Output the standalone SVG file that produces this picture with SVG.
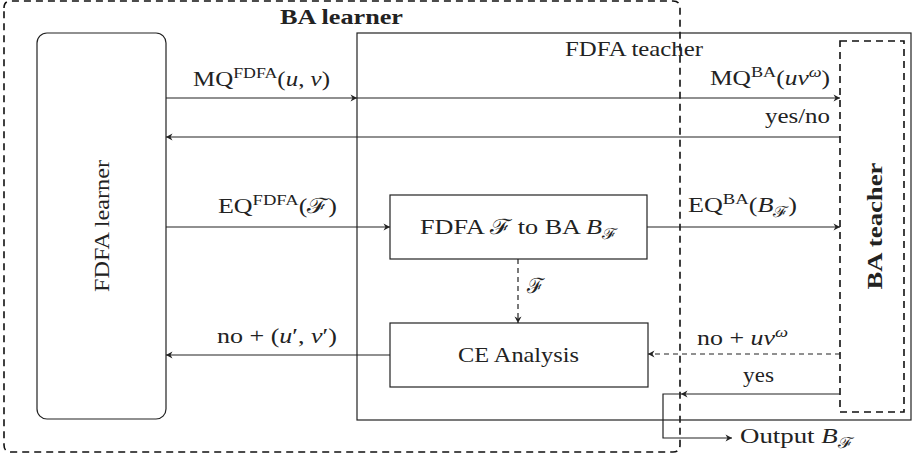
<svg xmlns="http://www.w3.org/2000/svg" width="913" height="459" viewBox="0 0 913 459">
<style>
text{font-family:"Liberation Serif","DejaVu Serif",serif;font-size:21px;fill:#222}
.b{font-weight:bold}
.i{font-style:italic}
.sup{font-size:15px}
.sub{font-size:15px}
.box{fill:none;stroke:#222;stroke-width:1.2}
.dbox{fill:none;stroke:#111;stroke-width:1.6;stroke-dasharray:7 5}
.ln{fill:none;stroke:#222;stroke-width:1.2}
.dl{fill:none;stroke:#222;stroke-width:1.2;stroke-dasharray:5 4}
</style>
<defs>
<marker id="arr" viewBox="-7 -4 8 8" refX="0" refY="0" markerWidth="8" markerHeight="8" orient="auto" markerUnits="userSpaceOnUse">
<path d="M0,0 L-6.5,-3.5 L-4.5,0 L-6.5,3.5 Z" fill="#222"/>
</marker>
</defs>
<g id="ba-learner">
<path class="dbox" d="M4,8 Q4,1 11,1 L673,1 Q680,1 680,8 L680,445 Q680,452 673,452 L11,452 Q4,452 4,445 Z"/>
<text class="b" x="280" y="24" textLength="123" lengthAdjust="spacingAndGlyphs">BA learner</text>
</g>
<g id="fdfa-learner">
<rect class="box" x="37" y="33" width="129" height="386" rx="10"/>
<text x="109" y="226" text-anchor="middle" transform="rotate(-90 109 226)" textLength="132" lengthAdjust="spacingAndGlyphs">FDFA learner</text>
</g>
<g id="fdfa-teacher">
<rect class="box" x="357" y="33" width="554" height="387"/>
<text x="565" y="56" textLength="138" lengthAdjust="spacingAndGlyphs">FDFA teacher</text>
</g>
<g id="ba-teacher">
<rect class="dbox" x="840" y="41" width="64" height="371"/>
<text class="b" x="882" y="226" text-anchor="middle" transform="rotate(-90 882 226)" textLength="127" lengthAdjust="spacingAndGlyphs">BA teacher</text>
</g>
<g id="fdfa-to-ba">
<rect class="box" x="390" y="195" width="257" height="64"/>
<text x="420" y="234" textLength="197" lengthAdjust="spacingAndGlyphs">FDFA ℱ to BA <tspan class="i">B</tspan><tspan class="sub" dy="5">ℱ</tspan></text>
</g>
<g id="ce-analysis">
<rect class="box" x="390" y="323" width="258" height="64"/>
<text x="458" y="362" textLength="121" lengthAdjust="spacingAndGlyphs">CE Analysis</text>
</g>
<g id="connectors">
<line class="ln" x1="166" y1="98" x2="357" y2="98" marker-end="url(#arr)"/>
<line class="ln" x1="357" y1="98" x2="840" y2="98" marker-end="url(#arr)"/>
<line class="ln" x1="840" y1="137" x2="166" y2="137" marker-end="url(#arr)"/>
<line class="ln" x1="166" y1="227" x2="390" y2="227" marker-end="url(#arr)"/>
<line class="ln" x1="647" y1="227" x2="840" y2="227" marker-end="url(#arr)"/>
<line class="dl" x1="518" y1="259" x2="518" y2="323" marker-end="url(#arr)"/>
<line class="ln" x1="390" y1="355" x2="166" y2="355" marker-end="url(#arr)"/>
<line class="dl" x1="840" y1="354" x2="648" y2="354" marker-end="url(#arr)"/>
<line class="ln" x1="840" y1="394" x2="681" y2="394" marker-end="url(#arr)"/>
<path class="ln" d="M681,394 L663,394 L663,438 L732,438" marker-end="url(#arr)"/>
<text x="193" y="86" textLength="137" lengthAdjust="spacingAndGlyphs">MQ<tspan class="sup" dy="-8">FDFA</tspan><tspan dy="8">(</tspan><tspan class="i">u</tspan>, <tspan class="i">v</tspan>)</text>
<text x="710" y="85" textLength="120" lengthAdjust="spacingAndGlyphs">MQ<tspan class="sup" dy="-8">BA</tspan><tspan dy="8">(</tspan><tspan class="i">uv</tspan><tspan class="sup i" dy="-8">ω</tspan><tspan dy="8">)</tspan></text>
<text x="765" y="123" textLength="65" lengthAdjust="spacingAndGlyphs">yes/no</text>
<text x="218" y="213" textLength="119" lengthAdjust="spacingAndGlyphs">EQ<tspan class="sup" dy="-8">FDFA</tspan><tspan dy="8">(ℱ)</tspan></text>
<text x="688" y="212" textLength="109" lengthAdjust="spacingAndGlyphs">EQ<tspan class="sup" dy="-8">BA</tspan><tspan dy="8">(</tspan><tspan class="i">B</tspan><tspan class="sub" dy="5">ℱ</tspan><tspan dy="-5">)</tspan></text>
<text x="527" y="293">ℱ</text>
<text x="217" y="343" textLength="120" lengthAdjust="spacingAndGlyphs">no + (<tspan class="i">u</tspan>′, <tspan class="i">v</tspan>′)</text>
<text x="697" y="345" textLength="91" lengthAdjust="spacingAndGlyphs">no + <tspan class="i">uv</tspan><tspan class="sup i" dy="-8">ω</tspan></text>
<text x="743" y="382" textLength="31" lengthAdjust="spacingAndGlyphs">yes</text>
<text x="740" y="443" textLength="113" lengthAdjust="spacingAndGlyphs">Output <tspan class="i">B</tspan><tspan class="sub" dy="5">ℱ</tspan></text>
</g>
</svg>
